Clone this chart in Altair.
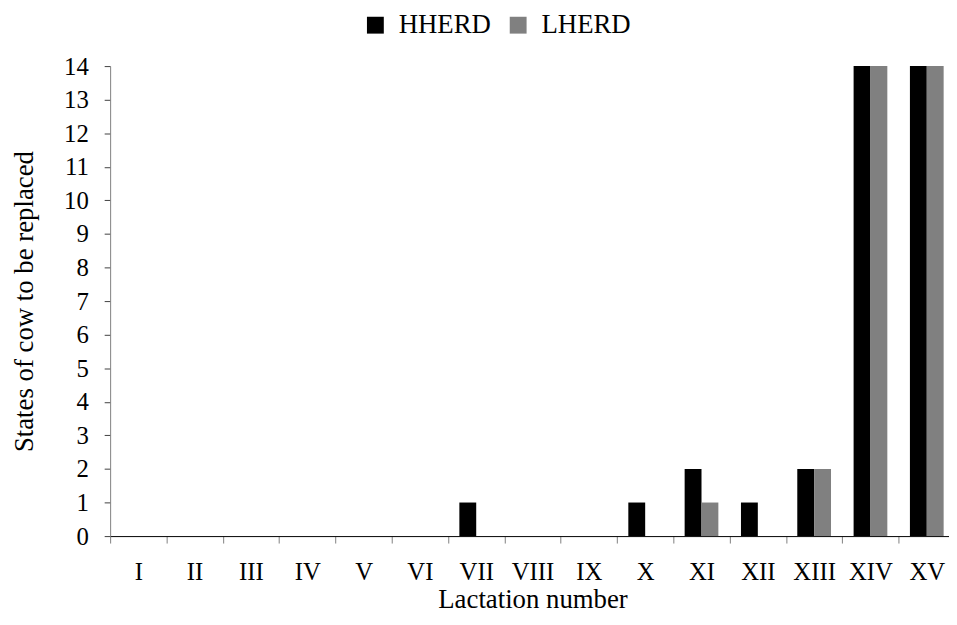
import altair as alt
import pandas as pd

categories = ["I", "II", "III", "IV", "V", "VI", "VII", "VIII", "IX", "X",
              "XI", "XII", "XIII", "XIV", "XV"]
hherd = [0, 0, 0, 0, 0, 0, 1, 0, 0, 1, 2, 1, 2, 14, 14]
lherd = [0, 0, 0, 0, 0, 0, 0, 0, 0, 0, 1, 0, 2, 14, 14]
series = ["HHERD", "LHERD"]
colors = ["#000000", "#808080"]

rows = []
for c, h, l in zip(categories, hherd, lherd):
    rows.append({"lact": c, "herd": "HHERD", "value": h})
    rows.append({"lact": c, "herd": "LHERD", "value": l})
df = pd.DataFrame(rows)

FONT = "Liberation Serif"

chart = alt.Chart(df).mark_bar().encode(
    x=alt.X("lact:N", sort=categories,
            scale=alt.Scale(paddingInner=0, paddingOuter=0, range=[0, 852]),
            axis=alt.Axis(title="Lactation number", labelAngle=0, tickBand="extent",
                          grid=False,
                          domainColor="#000000", tickColor="#808080", tickSize=7,
                          labelPadding=17, titlePadding=2, labelFontSize=25,
                          titleFontSize=27, labelColor="#000000", titleColor="#000000")),
    xOffset=alt.XOffset("herd:N", sort=series,
                        scale=alt.Scale(paddingInner=0, paddingOuter=0.67)),
    y=alt.Y("value:Q", scale=alt.Scale(domain=[0, 14], nice=False),
            axis=alt.Axis(title="States of cow to be replaced", values=list(range(15)),
                          grid=False, domainColor="#808080", tickColor="#404040",
                          tickSize=6, labelPadding=16, labelFontSize=25,
                          titleFontSize=27, titleX=-72, labelColor="#000000",
                          titleColor="#000000")),
    color=alt.Color("herd:N", sort=series,
                    scale=alt.Scale(domain=series, range=colors),
                    legend=alt.Legend(title=None, orient="none", direction="horizontal",
                                      legendX=254, legendY=-55, symbolType="square",
                                      symbolSize=289, symbolStrokeWidth=0,
                                      labelFontSize=27, columnPadding=14,
                                      labelOffset=10)),
).properties(
    width=846, height=474,
    padding={"left": 103, "top": 56, "right": 0, "bottom": 78},
    autosize=alt.AutoSizeParams(type="none"),
    view=alt.ViewBackground(stroke="transparent", strokeWidth=0, strokeOpacity=0),
).configure_view(stroke="transparent", strokeWidth=0, strokeOpacity=0).configure(
    font=FONT
).configure_axis(
    labelFont=FONT, titleFont=FONT, titleFontWeight="normal"
).configure_legend(labelFont=FONT, labelColor="#000000")

chart.save("out.html", embed_options={"renderer": "svg", "actions": False})
